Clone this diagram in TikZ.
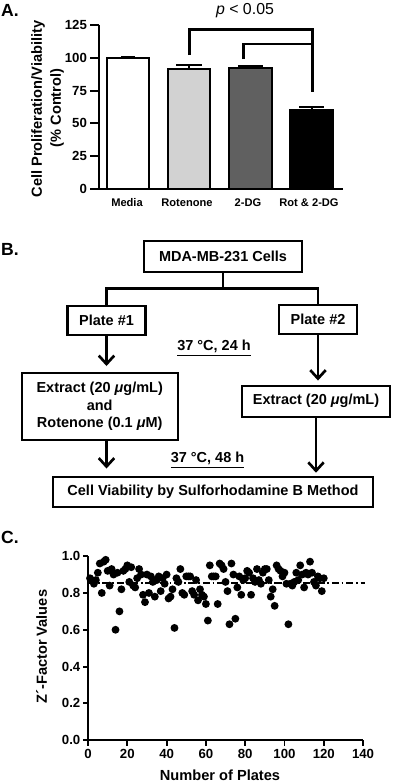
\documentclass[tikz,border=0pt]{standalone}
\usepackage{fontspec}
\setmainfont{Liberation Sans}
\usetikzlibrary{arrows.meta}

\tikzset{
  panellabel/.style={font=\fontsize{12.5}{14}\selectfont\bfseries},
  axistitle/.style={font=\fontsize{10.4}{12.5}\selectfont\bfseries},
  ticklabel/.style={font=\fontsize{9.4}{11}\selectfont\bfseries},
  barlabel/.style={font=\fontsize{7.9}{9}\selectfont\bfseries},
  axisline/.style={line width=1.4pt},
  barframe/.style={line width=1.4pt},
  flowbox/.style={draw, line width=1.5pt, fill=white, align=center, inner sep=0pt,
    font=\fontsize{10.3}{12.2}\selectfont\bfseries},
  flowline/.style={line width=1.9pt},
  flowarrow/.style={line width=1.9pt, -{Straight Barb[length=6pt,width=11pt]}},
  steplabel/.style={font=\fontsize{10.3}{12}\selectfont\bfseries},
}

\begin{document}
\begin{tikzpicture}[x=0.025cm,y=-0.025cm]%
\fill[white] (0,0) rectangle (400,783);%
\useasboundingbox (0,0) rectangle (400,783);%
% ---- A. bar chart ----
\node[panellabel] (labA) at (10,10) {A.};%
\node[font=\fontsize{11.3}{13}\selectfont] (pval) at (245,11) {\textit{p} < 0.05};%
\node[axistitle, rotate=90] (ytitleA) at (38,109) {Cell Proliferation/Viability};%
\node[axistitle, rotate=90] (ytitleA2) at (57,108) {(\% Control)};%
\begin{scope}[shift={(2.475cm,-4.725cm)}, x=0.025cm, y=0.0328cm]%
\fill[white] (8,0) rectangle (50,100);%
\draw[barframe] (8,0) rectangle (50,100);%
\fill[fill={rgb,255:red,210;green,210;blue,210}] (69,0) rectangle (111,91.5);%
\draw[barframe] (69,0) rectangle (111,91.5);%
\fill[fill={rgb,255:red,96;green,96;blue,96}] (130,0) rectangle (173,92);%
\draw[barframe] (130,0) rectangle (173,92);%
\fill[black] (191,0) rectangle (234,60);%
\draw[barframe] (191,0) rectangle (234,60);%
\draw[barframe] (29,100) -- (29,100.6) (22,100.6) -- (36,100.6);%
\draw[barframe] (90,91.5) -- (90,94.2) (77,94.2) -- (103,94.2);%
\draw[barframe] (151.5,92) -- (151.5,94) (139,94) -- (164,94);%
\draw[barframe] (212.5,60) -- (212.5,62.5) (200,62.5) -- (225,62.5);%
\draw[axisline] (0,125) -- (0,0) -- (244,0);%
\foreach \v in {0,25,50,75,100,125}
  \draw[axisline] (0,\v) -- (-9,\v) node[ticklabel, anchor=east, inner sep=1.5pt] (ytA\v) {\v};%
\draw[line width=2.1pt] (90,102) -- (90,121.7) -- (213.7,121.7) -- (213.7,74);%
\draw[line width=2.1pt] (144,99) -- (144,110.5) -- (213.7,110.5);%
\end{scope}%
\node[barlabel] (xMedia) at (127,202.7) {Media};%
\node[barlabel] (xRot) at (187,202.7) {Rotenone};%
\node[barlabel] (xDG) at (248,202.7) {2-DG};%
\node[barlabel] (xRotDG) at (309,202.7) {Rot \& 2-DG};%
% ---- B. flow chart ----
\node[panellabel] (labB) at (10,249) {B.};%
\node[flowbox, minimum width=3.95cm, minimum height=0.77cm] (cells) at (223,256.5) {MDA-MB-231 Cells};%
\node[flowbox, minimum width=1.95cm, minimum height=0.73cm] (plate1) at (106.5,320.5) {Plate \#1};%
\node[flowbox, minimum width=1.95cm, minimum height=0.73cm] (plate2) at (318,319.5) {Plate \#2};%
\node[flowbox, minimum width=3.9cm, minimum height=1.68cm] (extract1) at (99.7,406.3) {Extract (20 {\itshape μ}g/mL)\\and\\Rotenone (0.1 {\itshape μ}M)};%
\node[flowbox, minimum width=3.7cm, minimum height=0.77cm] (extract2) at (316,401.2) {Extract (20 {\itshape μ}g/mL)};%
\node[flowbox, minimum width=7.98cm, minimum height=0.77cm] (viab) at (213,492) {Cell Viability by Sulforhodamine B Method};%
\coordinate (split) at (223,288.3);%
\draw[flowline] (cells.south) -- (split);%
\draw[flowline] (plate1.north) -- (plate1 |- split) -- (plate2 |- split) -- (plate2.north);%
\draw[flowarrow, shorten >=4pt] (plate1.south) -- (plate1 |- extract1.north);%
\draw[flowarrow, shorten >=3pt] (plate2.south) -- (plate2 |- extract2.north);%
\draw[flowarrow, shorten >=5pt] (plate1 |- extract1.south) -- (plate1 |- viab.north);%
\draw[flowarrow, shorten >=2pt] (extract2.south) -- (extract2 |- viab.north);%
\node[steplabel] (t24) at (214,348) {\underline{37 °C, 24 h}};%
\node[steplabel] (t48) at (207.5,460) {\underline{37 °C, 48 h}};%
% ---- C. scatter plot ----
\node[panellabel] (labC) at (10,537) {C.};%
\node[axistitle, rotate=90] (ytitleC) at (41.7,646.7) {Z´-Factor Values};%
\node[axistitle] (xtitleC) at (220,775) {Number of Plates};%
\begin{scope}[shift={(2.2cm,-18.5cm)}, x=0.0491cm, y=4.6cm]%
\draw[line width=1.2pt, dash pattern=on 5pt off 2pt on 1.2pt off 2pt] (0,0.855) -- (141,0.855);%
\foreach \v [count=\n] in {0.88,0.87,0.85,0.87,0.91,0.96,0.80,0.97,0.98,0.92,
  0.84,0.93,0.90,0.60,0.91,0.70,0.82,0.92,0.93,0.95,
  0.86,0.94,0.84,0.83,0.88,0.93,0.90,0.79,0.75,0.90,
  0.80,0.89,0.86,0.78,0.87,0.89,0.81,0.88,0.85,0.90,
  0.77,0.78,0.82,0.61,0.88,0.86,0.93,0.80,0.79,0.89,
  0.89,0.89,0.81,0.79,0.87,0.76,0.82,0.79,0.78,0.74,
  0.65,0.95,0.89,0.89,0.89,0.74,0.96,0.95,0.93,0.86,
  0.81,0.63,0.96,0.90,0.66,0.83,0.89,0.79,0.87,0.88,
  0.92,0.91,0.79,0.88,0.86,0.93,0.87,0.85,0.91,0.93,
  0.93,0.87,0.78,0.82,0.73,0.95,0.93,0.92,0.89,0.91,
  0.85,0.63,0.85,0.84,0.86,0.91,0.87,0.95,0.90,0.83,
  0.91,0.90,0.97,0.91,0.86,0.84,0.89,0.88,0.81,0.88}
  \fill (\n,\v) circle[radius=2.8pt];%
\draw[axisline] (0,1.0) -- (0,0) -- (140,0);%
\foreach \v in {0.0,0.2,0.4,0.6,0.8,1.0}
  \draw[axisline] (0,\v) -- ++(-3.8pt,0) node[ticklabel, anchor=east, inner sep=1pt] (ytC\v) {\v};%
\foreach \u in {0,20,...,140}
  \draw[axisline] (\u,0) -- ++(0,-4pt) node[ticklabel, anchor=north, inner sep=1.5pt] (xtC\u) {\u};%
\end{scope}%
\end{tikzpicture}
\end{document}
